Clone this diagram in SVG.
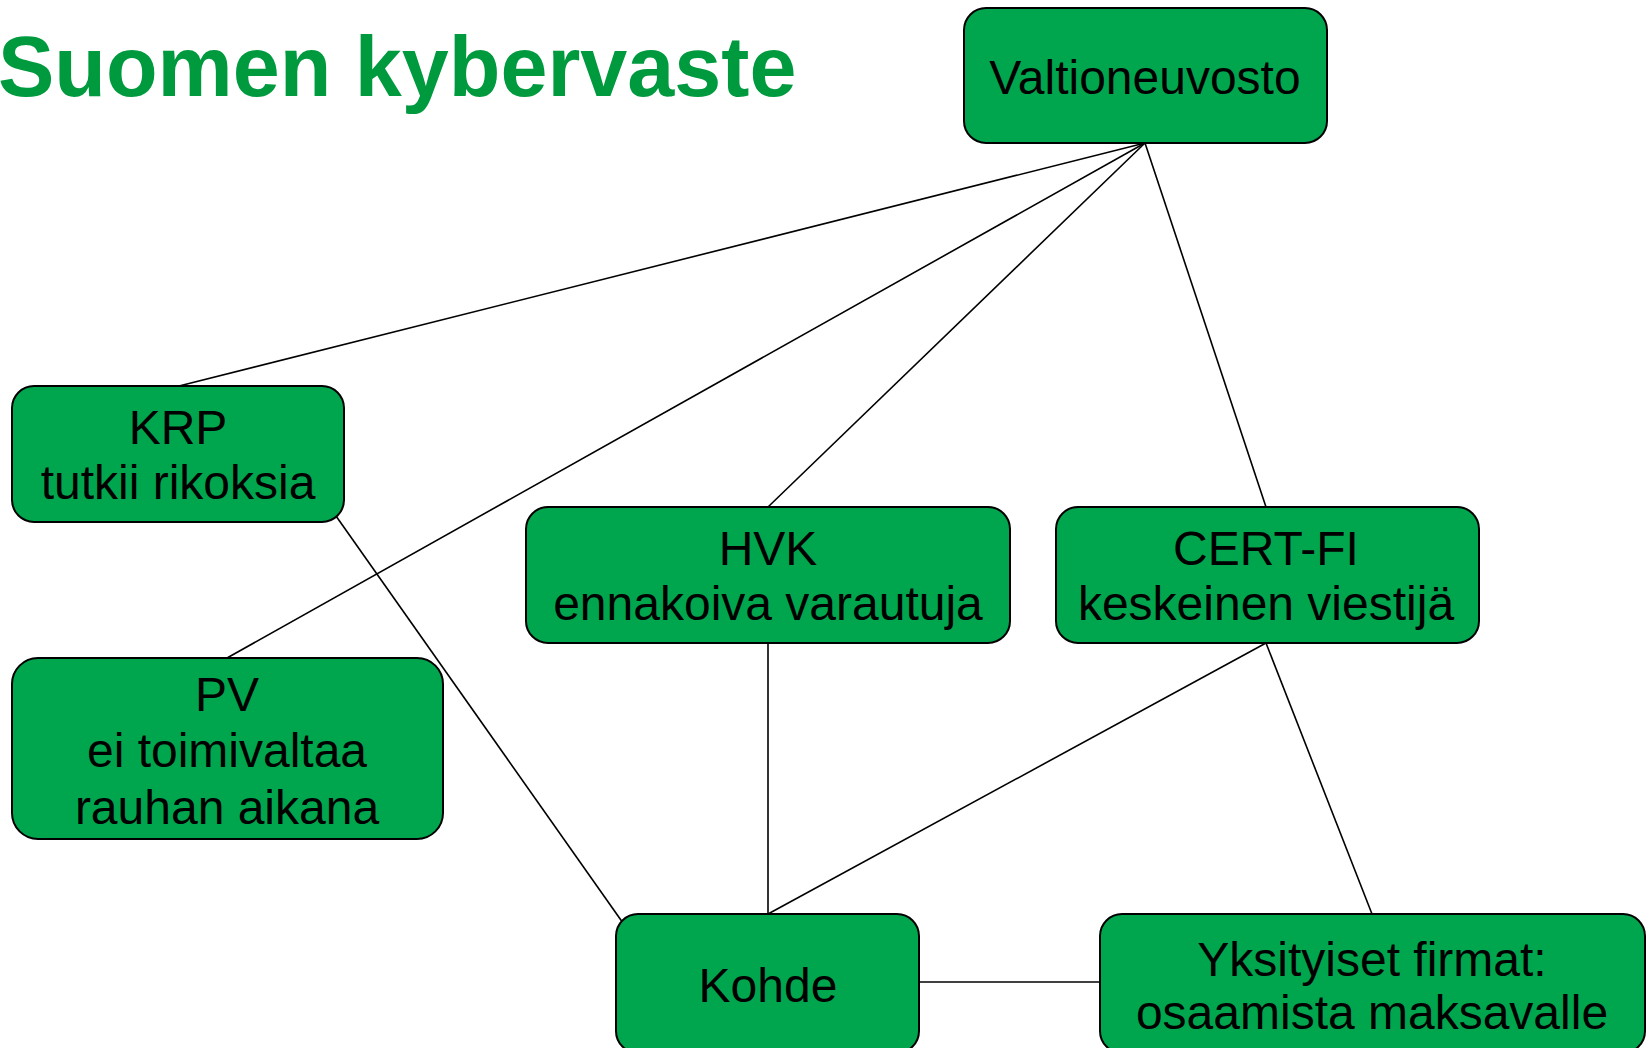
<svg xmlns="http://www.w3.org/2000/svg" width="1651" height="1048" viewBox="0 0 1651 1048">
<style>
.box{fill:#00A64E;stroke:#000;stroke-width:2}
.lbl{font-family:"Liberation Sans",Arial,sans-serif;font-size:48px;fill:#000;text-anchor:middle}
.title{font-family:"Liberation Sans",Arial,sans-serif;font-size:84.5px;font-weight:bold;fill:#009A3E}
.conn line{stroke:#000;stroke-width:1.6}
</style>
<rect width="1651" height="1048" fill="#fff"/>
<text class="title" x="-2" y="96">Suomen kybervaste</text>
<g id="connectors" class="conn">
<line x1="1145" y1="143" x2="179" y2="386"/>
<line x1="1145" y1="143" x2="227" y2="658"/>
<line x1="1145" y1="143" x2="768" y2="507"/>
<line x1="1145" y1="143" x2="1266" y2="507"/>
<line x1="336" y1="516" x2="623" y2="923"/>
<line x1="768" y1="643" x2="768" y2="914"/>
<line x1="1266" y1="643" x2="768" y2="914"/>
<line x1="1266" y1="643" x2="1372" y2="914"/>
<line x1="919" y1="982" x2="1100" y2="982"/>
</g>
<g id="valtioneuvosto">
<rect class="box" x="964" y="8" width="363" height="135" rx="22"/>
<text class="lbl" x="1145" y="94">Valtioneuvosto</text>
</g>
<g id="krp">
<rect class="box" x="12" y="386" width="332" height="136" rx="22"/>
<text class="lbl" x="178" y="444">KRP</text>
<text class="lbl" x="178" y="499">tutkii rikoksia</text>
</g>
<g id="pv">
<rect class="box" x="12" y="658" width="431" height="181" rx="26"/>
<text class="lbl" x="227" y="711">PV</text>
<text class="lbl" x="227" y="767">ei toimivaltaa</text>
<text class="lbl" x="227" y="824">rauhan aikana</text>
</g>
<g id="hvk">
<rect class="box" x="526" y="507" width="484" height="136" rx="22"/>
<text class="lbl" x="768" y="565">HVK</text>
<text class="lbl" x="768" y="620">ennakoiva varautuja</text>
</g>
<g id="certfi">
<rect class="box" x="1056" y="507" width="423" height="136" rx="22"/>
<text class="lbl" x="1266" y="565">CERT-FI</text>
<text class="lbl" x="1266" y="620">keskeinen viestijä</text>
</g>
<g id="kohde">
<rect class="box" x="616" y="914" width="303" height="139" rx="22"/>
<text class="lbl" x="768" y="1002">Kohde</text>
</g>
<g id="yksityiset">
<rect class="box" x="1100" y="914" width="545" height="139" rx="22"/>
<text class="lbl" x="1372" y="976">Yksityiset firmat:</text>
<text class="lbl" x="1372" y="1029">osaamista maksavalle</text>
</g>
</svg>
